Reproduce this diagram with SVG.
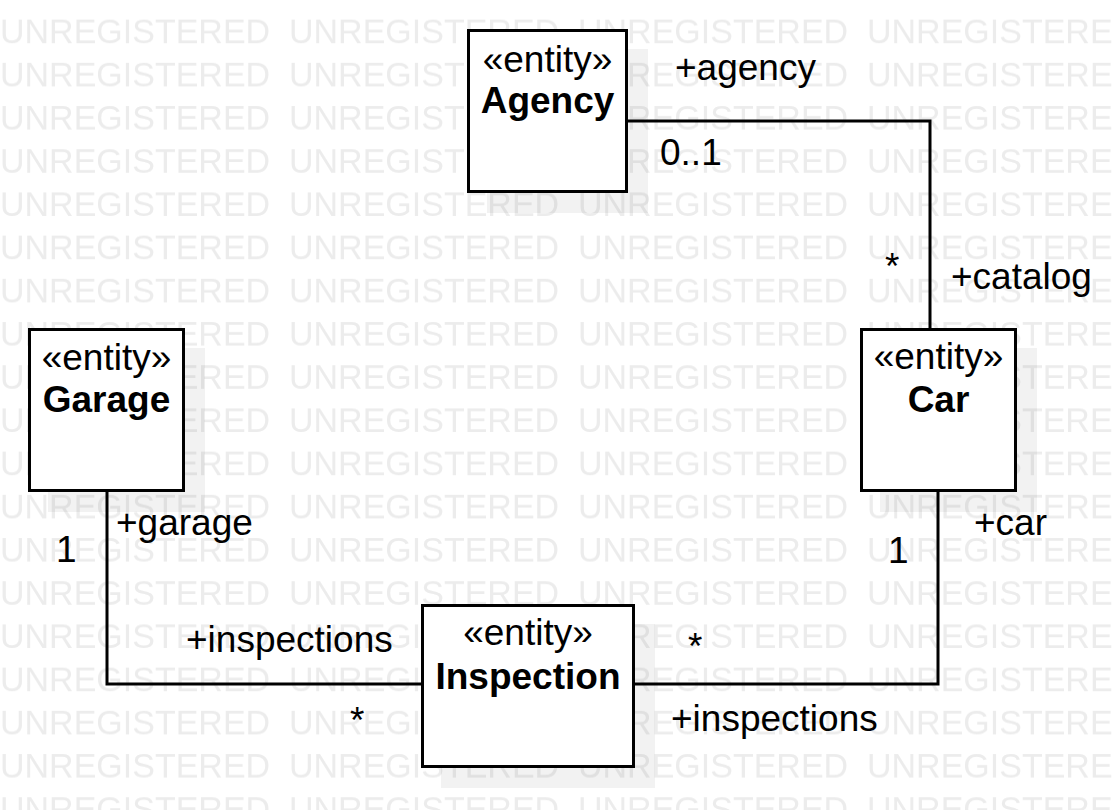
<svg xmlns="http://www.w3.org/2000/svg" width="1115" height="810" viewBox="0 0 1115 810">
<style>
  text { font-family: "Liberation Sans", Arial, sans-serif; font-size: 37px; fill: #000; }
  .wm { font-size: 34px; fill: #ececec; }
  .name { font-weight: bold; }
  .mid { text-anchor: middle; }
  .box { fill: #fff; stroke: #000; stroke-width: 3; }
  .shadow { fill: #000; fill-opacity: 0.05; stroke: none; }
  .conn { fill: none; stroke: #000; stroke-width: 3; }
</style>
<defs>
  <pattern id="wmpat" patternUnits="userSpaceOnUse" x="0" y="0" width="289" height="43.2">
    <text class="wm" x="0" y="43">UNREGISTERED</text>
  </pattern>
</defs>
<rect x="0" y="0" width="1115" height="810" fill="#fff"/>
<rect x="0" y="0" width="1115" height="810" fill="url(#wmpat)"/>

<g id="connectors">
  <polyline class="conn" points="628,121 930,121 930,328"/>
  <polyline class="conn" points="107,492 107,684 421,684"/>
  <polyline class="conn" points="938,492 938,684 635,684"/>
  <text x="675" y="80">+agency</text>
  <text x="660" y="165">0..1</text>
  <text x="885" y="279">*</text>
  <text x="951" y="289">+catalog</text>
  <text x="116" y="535">+garage</text>
  <text x="56" y="562">1</text>
  <text x="186" y="652">+inspections</text>
  <text x="350" y="733">*</text>
  <text x="974" y="535">+car</text>
  <text x="888" y="563">1</text>
  <text x="688" y="659">*</text>
  <text x="671" y="731">+inspections</text>
</g>

<g id="agency">
  <rect class="shadow" x="487" y="49" width="161" height="164"/>
  <rect class="box" x="468.5" y="30.5" width="158" height="161"/>
  <text class="mid" x="547.5" y="72">«entity»</text>
  <text class="mid name" x="547.5" y="113">Agency</text>
</g>

<g id="garage">
  <rect class="shadow" x="48" y="348" width="157" height="164"/>
  <rect class="box" x="29.5" y="329.5" width="154" height="161"/>
  <text class="mid" x="106.5" y="370">«entity»</text>
  <text class="mid name" x="106.5" y="412">Garage</text>
</g>

<g id="car">
  <rect class="shadow" x="880" y="348" width="157" height="164"/>
  <rect class="box" x="861.5" y="329.5" width="154" height="161"/>
  <text class="mid" x="938.5" y="369">«entity»</text>
  <text class="mid name" x="938.5" y="412">Car</text>
</g>

<g id="inspection">
  <rect class="shadow" x="441" y="624" width="214" height="164"/>
  <rect class="box" x="422.5" y="605.5" width="211" height="161"/>
  <text class="mid" x="528" y="645">«entity»</text>
  <text class="mid name" x="528" y="689">Inspection</text>
</g>
</svg>
